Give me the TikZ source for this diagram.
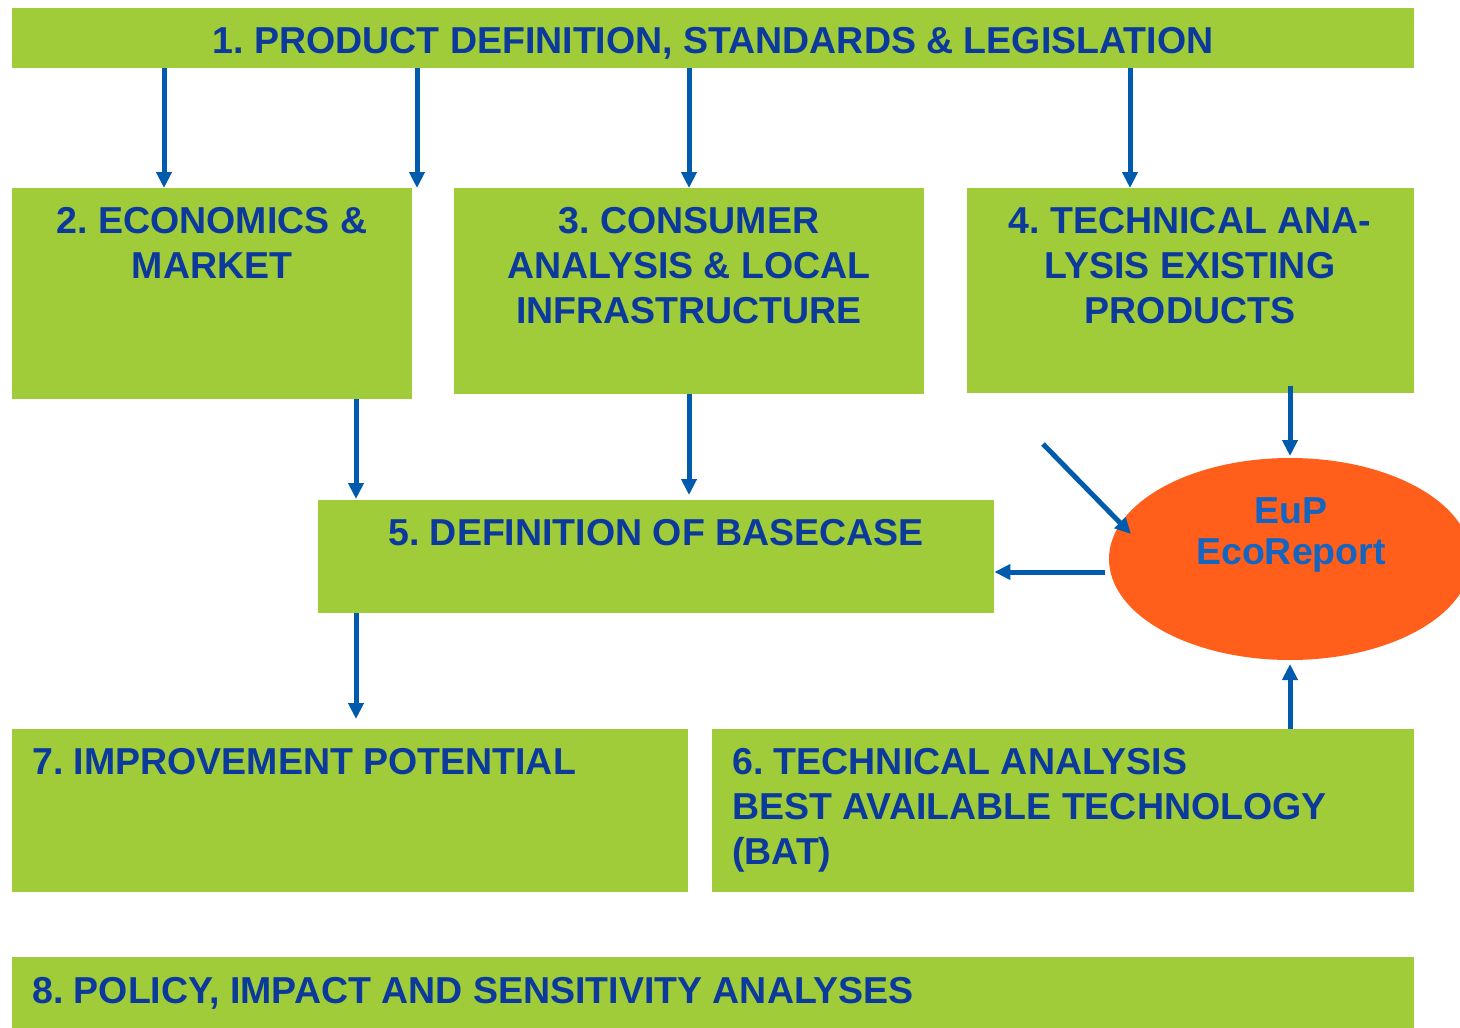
\documentclass[tikz,border=0pt]{standalone}
\usepackage{fontspec}
\setmainfont{Liberation Sans}
\usetikzlibrary{arrows.meta}
\definecolor{boxgreen}{HTML}{A0CC3A}
\definecolor{navy}{HTML}{0B3A9C}
\definecolor{arrowblue}{HTML}{005BAC}
\definecolor{ecoorange}{HTML}{FF5F1B}
\definecolor{ecoblue}{HTML}{1565C0}
\frenchspacing
\tikzset{
  box/.style={fill=boxgreen, draw=none, inner sep=0pt, anchor=north west},
  txt/.style={font=\fontsize{37.5}{37.5}\selectfont\bfseries, text=navy, inner sep=0pt, anchor=base},
  ltxt/.style={txt, anchor=base west},
  conn/.style={draw=arrowblue, line width=5pt, -{Triangle[length=16pt,width=15pt]}},
}
\begin{document}
\begin{tikzpicture}[x=1pt,y=-1pt]
\useasboundingbox (0,0) rectangle (1460,1028);
% boxes
\node[box, minimum width=1402pt, minimum height=60pt] (b1) at (12,8) {};
\node[box, minimum width=400pt, minimum height=211pt] (b2) at (12,188) {};
\node[box, minimum width=470pt, minimum height=206pt] (b3) at (454,188) {};
\node[box, minimum width=447pt, minimum height=205pt] (b4) at (967,188) {};
\node[box, minimum width=676pt, minimum height=113pt] (b5) at (318,500) {};
\node[box, minimum width=676pt, minimum height=163pt] (b7) at (12,729) {};
\node[box, minimum width=702pt, minimum height=163pt] (b6) at (712,729) {};
\node[box, minimum width=1402pt, minimum height=80pt] (b8) at (12,957) {};
% ellipse
\begin{scope}
\clip (0,0) rectangle (1460,1028);
\fill[ecoorange] (1290,559) ellipse [x radius=181pt, y radius=101pt];
\end{scope}
\coordinate (eco) at (1290,559);
% texts
\node[txt] (t1) at (713,53) {1. PRODUCT DEFINITION, STANDARDS \& LEGISLATION};
\node[txt] (t2a) at (212,233) {2. ECONOMICS \&};
\node[txt] (t2b) at (212,278) {MARKET};
\node[txt] (t3a) at (689,233) {3. CONSUMER};
\node[txt] (t3b) at (689,278) {ANALYSIS \& LOCAL};
\node[txt] (t3c) at (689,323) {INFRASTRUCTURE};
\node[txt] (t4a) at (1190,233) {4. TECHNICAL ANA-};
\node[txt] (t4b) at (1190,278) {LYSIS EXISTING};
\node[txt] (t4c) at (1190,323) {PRODUCTS};
\node[txt] (t5) at (656,545) {5. DEFINITION OF BASECASE};
\node[ltxt] (t7) at (32,774) {7. IMPROVEMENT POTENTIAL};
\node[ltxt] (t6a) at (732,774) {6. TECHNICAL ANALYSIS};
\node[ltxt] (t6b) at (732,819) {BEST AVAILABLE TECHNOLOGY};
\node[ltxt] (t6c) at (732,864) {(BAT)};
\node[ltxt] (t8) at (32,1003) {8. POLICY, IMPACT AND SENSITIVITY ANALYSES};
\node[txt, text=ecoblue] (e1) at (1291,523) {EuP};
\node[txt, text=ecoblue] (e2) at (1291,564) {EcoReport};
% connectors
\coordinate (c1) at (164,188);
\coordinate (c2) at (417,188);
\coordinate (c3) at (689,188);
\coordinate (c4) at (1130,188);
\draw[conn] (b1.south -| c1) -- (c1);
\draw[conn] (b1.south -| c2) -- (c2);
\draw[conn] (b1.south -| c3) -- (c3);
\draw[conn] (b1.south -| c4) -- (c4);
\coordinate (c5) at (356,499);
\draw[conn] (b2.south -| c5) -- (c5);
\coordinate (c6) at (689,495);
\draw[conn] (b3.south -| c6) -- (c6);
\coordinate (c7s) at (1290,386);
\coordinate (c7) at (1290,456);
\draw[conn] (c7s) -- (c7);
\coordinate (d1) at (1043,444);
\coordinate (d2) at (1131,534);
\draw[conn] (d1) -- (d2);
\coordinate (h1) at (1105,572);
\draw[conn] (h1) -- (b5.east |- h1);
\coordinate (c8) at (356,719);
\draw[conn] (b5.south -| c8) -- (c8);
\coordinate (c9) at (1290,664);
\draw[conn] (b6.north -| c9) -- (c9);
\end{tikzpicture}
\end{document}
